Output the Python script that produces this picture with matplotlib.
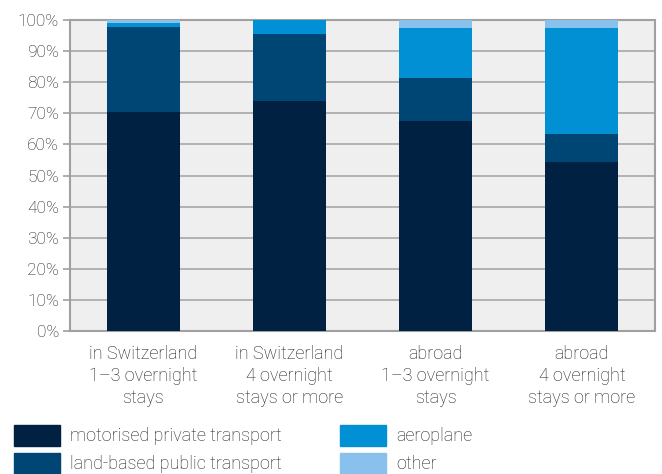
import matplotlib
matplotlib.use("Agg")
from matplotlib import pyplot as plt
from matplotlib.patches import Rectangle

plt.rcParams['font.family'] = ['Roboto', 'DejaVu Sans']
plt.rcParams['font.weight'] = 'light'

# datos (% de viajes por medio de transporte)
categorias = ["in Switzerland\n1–3 overnight\nstays",
              "in Switzerland\n4 overnight\nstays or more",
              "abroad\n1–3 overnight\nstays",
              "abroad\n4 overnight\nstays or more"]
motorizado = [70.5, 74.0, 67.5, 54.3]
publico = [27.2, 21.5, 14.0, 9.1]
avion = [1.3, 4.5, 16.0, 34.0]
otro = [1.0, 0.0, 2.5, 2.6]

series = ["motorised private transport", "land-based public transport", "aeroplane", "other"]
colores = ["#002142", "#004674", "#0090d3", "#88c2ec"]
valores = [motorizado, publico, avion, otro]

texto = "#1e1e1e"

fig = plt.figure(figsize=(6.62, 4.74), dpi=100)
ax = fig.add_axes([70 / 662, 1 - 331 / 474, 585 / 662, 311 / 474])
ax.set_facecolor("#efefef")

x = range(len(categorias))
base = [0] * len(categorias)
for nombre, vals, color in zip(series, valores, colores):
    ax.bar(x, vals, bottom=base, width=0.5, color=color, zorder=3, label=nombre)
    base = [b + v for b, v in zip(base, vals)]

ax.set_xlim(-0.5, 3.5)
ax.set_ylim(0, 100)
ax.set_yticks(range(0, 101, 10))
ax.set_yticklabels([f"{v}%" for v in range(0, 101, 10)])
ax.set_xticks(list(x))
ax.set_xticklabels(categorias, linespacing=1.3)
ax.tick_params(axis="x", length=0, pad=10, labelsize=13, labelcolor=texto)
ax.tick_params(axis="y", length=5, color="#a0a0a0", width=1.2, pad=3,
               labelsize=12.5, labelcolor=texto)
ax.grid(axis="y", color="#a8a8a8", linewidth=1.2, zorder=1)
for s in ax.spines.values():
    s.set_color("#a0a0a0")
    s.set_linewidth(1.5)

# leyenda manual
pos = [(14, 425), (14, 453), (340, 425), (340, 453)]
for (px, py), nombre, color in zip(pos, series, colores):
    fig.patches.append(Rectangle((px / 662, 1 - (py + 21) / 474), 46 / 662, 21 / 474,
                                 transform=fig.transFigure, color=color))
    fig.text((px + 56) / 662, 1 - (py + 11) / 474, nombre, va="center", ha="left",
             fontsize=13, color=texto)

fig.savefig("out.png", dpi=100)
